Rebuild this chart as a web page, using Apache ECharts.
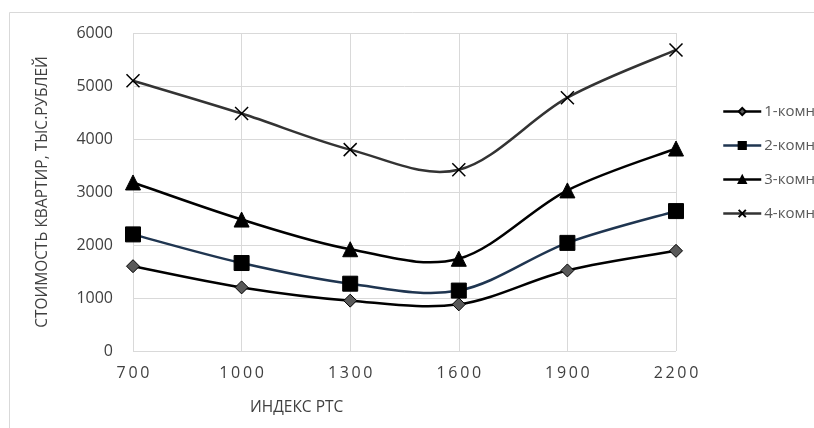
<!DOCTYPE html>
<html>
<head>
<meta charset="utf-8">
<script src="https://cdn.jsdelivr.net/npm/echarts@6/dist/echarts.min.js"></script>
<style>
  html, body { margin: 0; padding: 0; background: #fff; }
  #chart { width: 814px; height: 428px; }
</style>
</head>
<body>
<div id="chart"></div>
<script>
// данные графика
const rtsIndex = ['700', '1000', '1300', '1600', '1900', '2200'];
const room1 = [1600, 1200, 950, 880, 1520, 1890];
const room2 = [2200, 1660, 1270, 1140, 2040, 2640];
const room3 = [3180, 2480, 1920, 1740, 3030, 3820];
const room4 = [5100, 4480, 3800, 3420, 4780, 5680];
const seriesNames = ['1-комн', '2-комн', '3-комн', '4-комн'];

const font = "'Open Sans', 'Noto Sans', sans-serif";
const narrow = "'Liberation Sans Narrow', 'Open Sans', sans-serif";
const crossPath = 'path://M0,0L10,10M10,0L0,10';
const lineColors = ['#000', '#1f3550', '#000', '#333'];

const chart = echarts.init(document.getElementById('chart'));

// сглаженная кривая как в Excel (Catmull-Rom), точки берутся через api.coord
const curveSeries = (values, color) => ({
  type: 'custom',
  coordinateSystem: 'cartesian2d',
  data: values.map((v, i) => [i, v]),
  silent: true,
  z: 2,
  renderItem: (params, api) => {
    const i = params.dataIndex;
    if (i >= values.length - 1) return null;
    const last = values.length - 1;
    const pt = k => {
      const j = Math.max(0, Math.min(last, k));
      return api.coord([j, values[j]]);
    };
    const p0 = pt(i - 1), p1 = pt(i), p2 = pt(i + 1), p3 = pt(i + 2);
    return {
      type: 'bezierCurve',
      shape: {
        x1: p1[0], y1: p1[1],
        cpx1: p1[0] + (p2[0] - p0[0]) / 6, cpy1: p1[1] + (p2[1] - p0[1]) / 6,
        cpx2: p2[0] - (p3[0] - p1[0]) / 6, cpy2: p2[1] - (p3[1] - p1[1]) / 6,
        x2: p2[0], y2: p2[1]
      },
      style: { fill: null, stroke: color, lineWidth: 2.5 }
    };
  }
});

const markerSeries = (name, data, symbol, size, fill, bw) => ({
  name: name,
  type: 'line',
  data: data,
  symbol: symbol,
  symbolSize: size,
  showAllSymbol: true,
  lineStyle: { opacity: 0 },
  itemStyle: { color: fill, borderColor: '#000', borderWidth: bw },
  emphasis: { disabled: true },
  z: 3
});

chart.setOption({
  animation: false,
  backgroundColor: '#fff',
  graphic: [
    {
      type: 'rect',
      shape: { x: 9.5, y: 12.5, width: 820, height: 430 },
      style: { fill: 'none', stroke: '#d9d9d9', lineWidth: 1 },
      z: 0
    },
    {
      type: 'text',
      left: 250,
      top: 400,
      style: { text: 'ИНДЕКС РТС', fontSize: 15.5, fontFamily: narrow, fill: '#404040' }
    }
  ],
  grid: { left: 133, right: 138, top: 33, bottom: 77 },
  legend: {
    orient: 'vertical',
    left: 722,
    top: 104,
    padding: 0,
    itemWidth: 38,
    itemHeight: 9,
    itemGap: 19,
    data: seriesNames.map((n, k) => ({
      name: n,
      lineStyle: { color: lineColors[k], width: 2.5, opacity: 1 }
    })),
    textStyle: { fontSize: 15, color: '#595959', fontFamily: font, padding: [0, 0, 0, -2] }
  },
  xAxis: {
    type: 'category',
    data: rtsIndex,
    boundaryGap: false,
    axisLine: { show: false },
    axisTick: { show: false },
    axisLabel: {
      margin: 14,
      fontSize: 16,
      color: '#404040',
      fontFamily: font,
      formatter: v => v.split('').join('\u2009')
    },
    splitLine: { show: true, lineStyle: { color: '#d9d9d9' } }
  },
  yAxis: {
    type: 'value',
    min: 0,
    max: 6000,
    interval: 1000,
    name: 'СТОИМОСТЬ КВАРТИР, ТЫС.РУБЛЕЙ',
    nameLocation: 'middle',
    nameGap: 82,
    nameTextStyle: { fontSize: 15.5, color: '#404040', fontFamily: narrow },
    axisLine: { show: false },
    axisTick: { show: false },
    axisLabel: { margin: 20, fontSize: 16, color: '#404040', fontFamily: font, formatter: v => String(v) },
    splitLine: { lineStyle: { color: '#d9d9d9' } }
  },
  series: [
    curveSeries(room1, lineColors[0]),
    curveSeries(room2, lineColors[1]),
    curveSeries(room3, lineColors[2]),
    curveSeries(room4, lineColors[3]),
    markerSeries(seriesNames[0], room1, 'diamond', 13, '#595959', 1),
    markerSeries(seriesNames[1], room2, 'rect', 15, '#000', 1),
    markerSeries(seriesNames[2], room3, 'triangle', 15, '#000', 1),
    markerSeries(seriesNames[3], room4, crossPath, 13, '#333', 1.5)
  ]
});
</script>
</body>
</html>
